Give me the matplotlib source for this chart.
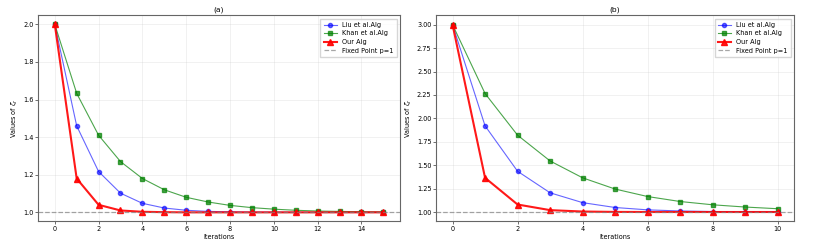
import numpy as np
import matplotlib.pyplot as plt

# dati
iter_a = np.arange(16)
liu_a = [2.0, 1.46, 1.217, 1.102, 1.048, 1.023, 1.011, 1.005, 1.003, 1.001, 1.001, 1.0, 1.0, 1.0, 1.0, 1.0]
khan_a = [2.0, 1.633, 1.41, 1.27, 1.18, 1.12, 1.08, 1.055, 1.037, 1.025, 1.017, 1.011, 1.007, 1.005, 1.003, 1.002]
our_a = [2.0, 1.18, 1.04, 1.01, 1.003, 1.001, 1.0, 1.0, 1.0, 1.0, 1.0, 1.0, 1.0, 1.0, 1.0, 1.0]

iter_b = np.arange(11)
liu_b = [3.0, 1.92, 1.435, 1.205, 1.1, 1.048, 1.023, 1.011, 1.005, 1.002, 1.001]
khan_b = [3.0, 2.265, 1.82, 1.545, 1.365, 1.245, 1.165, 1.112, 1.077, 1.053, 1.035]
our_b = [3.0, 1.365, 1.08, 1.02, 1.005, 1.001, 1.0, 1.0, 1.0, 1.0, 1.0]

fs = 4.7

fig = plt.figure(figsize=(8.21, 2.43), dpi=100)
ax1 = fig.add_axes([0.0467, 0.089, 0.4403, 0.848])
ax2 = fig.add_axes([0.5314, 0.089, 0.4357, 0.848])


def disegna(ax, x, liu, khan, our, titolo, xticks):
    ax.plot(x, liu, color="blue", marker="o", markersize=3, linewidth=0.8, alpha=0.6, label="Liu et al.Alg")
    ax.plot(x, khan, color="green", marker="s", markersize=3, linewidth=0.8, alpha=0.7, label="Khan et al.Alg")
    ax.plot(x, our, color="red", marker="^", markersize=4, linewidth=1.5, alpha=0.9, label="Our Alg")
    ax.axhline(1, color="gray", linestyle="--", linewidth=0.9, alpha=0.7, label="Fixed Point p=1")
    ax.set_title(titolo, fontsize=fs + 0.7, pad=3)
    ax.set_xlabel("Iterations", fontsize=fs, labelpad=1.5)
    ax.set_ylabel(r"Values of $\zeta_r$", fontsize=fs, labelpad=2)
    ax.set_xticks(xticks)
    ax.tick_params(labelsize=fs, length=2, width=0.4, pad=1.5)
    ax.grid(True, alpha=0.3, linewidth=0.4)
    for s in ax.spines.values():
        s.set_linewidth(0.8)
        s.set_color("#666666")
    ax.legend(fontsize=fs, loc="upper right", framealpha=0.8, borderpad=0.5,
              handlelength=2, labelspacing=0.4, edgecolor="#cccccc", fancybox=False)


disegna(ax1, iter_a, liu_a, khan_a, our_a, "(a)", range(0, 16, 2))
ax1.set_yticks([1.0, 1.2, 1.4, 1.6, 1.8, 2.0])
ax1.set_ylim(0.952, 2.048)
ax1.set_xlim(-0.75, 15.75)

disegna(ax2, iter_b, liu_b, khan_b, our_b, "(b)", range(0, 11, 2))
ax2.set_yticks(np.arange(1.0, 3.01, 0.25))
ax2.set_ylim(0.9, 3.1)
ax2.set_xlim(-0.5, 10.5)

fig.savefig("out.png", dpi=100)
